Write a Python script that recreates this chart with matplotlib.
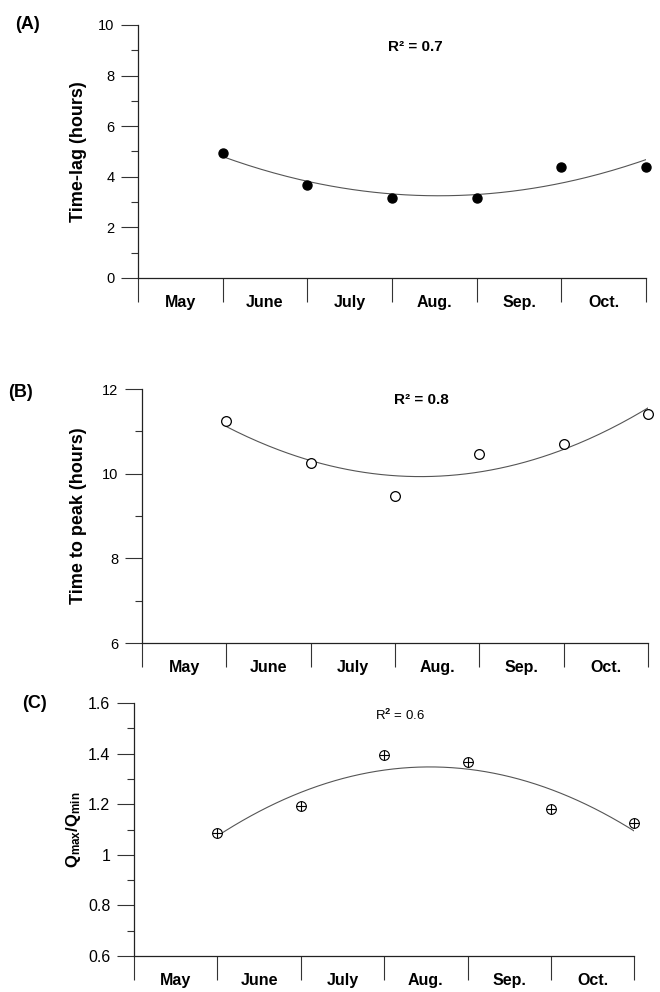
import numpy as np
import matplotlib
matplotlib.use("Agg")
import matplotlib.pyplot as plt
from matplotlib.ticker import MultipleLocator, FixedLocator, NullFormatter

plt.rcParams['font.family'] = ['Liberation Sans', 'DejaVu Sans']
plt.rcParams['mathtext.fontset'] = 'custom'
plt.rcParams['mathtext.rm'] = 'Liberation Sans'
plt.rcParams['mathtext.bf'] = 'Liberation Sans:bold'
plt.rcParams['mathtext.it'] = 'Liberation Sans:italic'

# Data (points sit at the end of each month)
months = ["May", "June", "July", "Aug.", "Sep.", "Oct."]
month_pos = [1, 2, 3, 4, 5, 6]
time_lag = [4.95, 3.68, 3.15, 3.15, 4.37, 4.37]
time_to_peak = [11.25, 10.25, 9.48, 10.47, 10.70, 11.40]
q_ratio = [1.086, 1.193, 1.394, 1.367, 1.181, 1.126]

r2_labels = ["R² = 0.7", "R² = 0.8", r"R$^{\mathbf{2}}$ = 0.6"]

fig = plt.figure(figsize=(6.6, 9.92), dpi=100)
fig.patch.set_facecolor("white")

axA = fig.add_axes([0.209, 0.7198, 0.770, 0.255])
axB = fig.add_axes([0.215, 0.3518, 0.767, 0.256])
axC = fig.add_axes([0.203, 0.0363, 0.758, 0.255])


def style_axis(ax, ylim, major, minor, ylabel, labelx, fmt=None, ylsize=13):
    for s in ["top", "right"]:
        ax.spines[s].set_visible(False)
    for s in ["left", "bottom"]:
        ax.spines[s].set_linewidth(0.9)
        ax.spines[s].set_color("#222222")
    ax.set_xlim(0, 6)
    ax.set_ylim(*ylim)
    ax.yaxis.set_major_locator(MultipleLocator(major))
    ax.yaxis.set_minor_locator(MultipleLocator(minor))
    if fmt is not None:
        ax.yaxis.set_major_formatter(fmt)
    ax.tick_params(axis="y", which="major", direction="out", length=12,
                   width=0.8, labelsize=10.5, pad=5, color="#333333")
    ax.tick_params(axis="y", which="minor", direction="out", length=5,
                   width=0.8, color="#333333")
    # month boundaries as ticks, month names between them
    ax.xaxis.set_major_locator(FixedLocator([0, 1, 2, 3, 4, 5, 6]))
    ax.xaxis.set_major_formatter(NullFormatter())
    ax.xaxis.set_minor_locator(FixedLocator([0.5, 1.5, 2.5, 3.5, 4.5, 5.5]))
    ax.set_xticklabels(months, minor=True, fontweight="bold")
    ax.tick_params(axis="x", which="major", direction="out", length=17,
                   width=0.8, color="#333333")
    ax.tick_params(axis="x", which="minor", length=0, pad=12, labelsize=11.5)
    ax.set_ylabel(ylabel, fontsize=ylsize, fontweight="bold")
    ax.yaxis.set_label_coords(labelx, 0.5)


def fit_curve(ax, y):
    coef = np.polyfit(month_pos, y, 2)
    xs = np.linspace(month_pos[0], month_pos[-1], 200)
    ax.plot(xs, np.polyval(coef, xs), color="#555555", lw=0.8, zorder=2)


# (A)
style_axis(axA, (0, 10), 2, 1, "Time-lag (hours)", -0.100)
fit_curve(axA, time_lag)
axA.plot(month_pos, time_lag, "o", color="black", ms=6.5, zorder=3,
         clip_on=False)
axA.text(0.545, 0.913, r2_labels[0], transform=axA.transAxes, ha="center",
         va="center", fontsize=11, fontweight="bold")

# (B)
style_axis(axB, (6, 12), 2, 1, "Time to peak (hours)", -0.109)
fit_curve(axB, time_to_peak)
axB.plot(month_pos, time_to_peak, "o", mfc="white", mec="black", mew=0.9,
         ms=7, zorder=3, clip_on=False)
axB.text(0.553, 0.957, r2_labels[1], transform=axB.transAxes, ha="center",
         va="center", fontsize=11, fontweight="bold")

# (C)
style_axis(axC, (0.6, 1.6), 0.2, 0.1, r"$\mathbf{Q_{max}/Q_{min}}$", -0.102,
           fmt=matplotlib.ticker.FuncFormatter(lambda v, p: f"{v:g}"),
           ylsize=12)
axC.tick_params(axis="y", which="major", labelsize=11.5)
fit_curve(axC, q_ratio)
axC.plot(month_pos, q_ratio, "o", mfc="white", mec="black", mew=0.8,
         ms=7, zorder=3, clip_on=False)
axC.plot(month_pos, q_ratio, "+", color="black", mew=0.8, ms=7, zorder=4,
         clip_on=False)
axC.text(0.532, 0.953, r2_labels[2], transform=axC.transAxes, ha="center",
         va="center", fontsize=9.5)

# panel letters
fig.text(0.023, 0.975, "(A)", fontsize=13, fontweight="bold", va="center")
fig.text(0.012, 0.604, "(B)", fontsize=13, fontweight="bold", va="center")
fig.text(0.033, 0.291, "(C)", fontsize=13, fontweight="bold", va="center")

fig.savefig("out.png", dpi=100, facecolor="white")
